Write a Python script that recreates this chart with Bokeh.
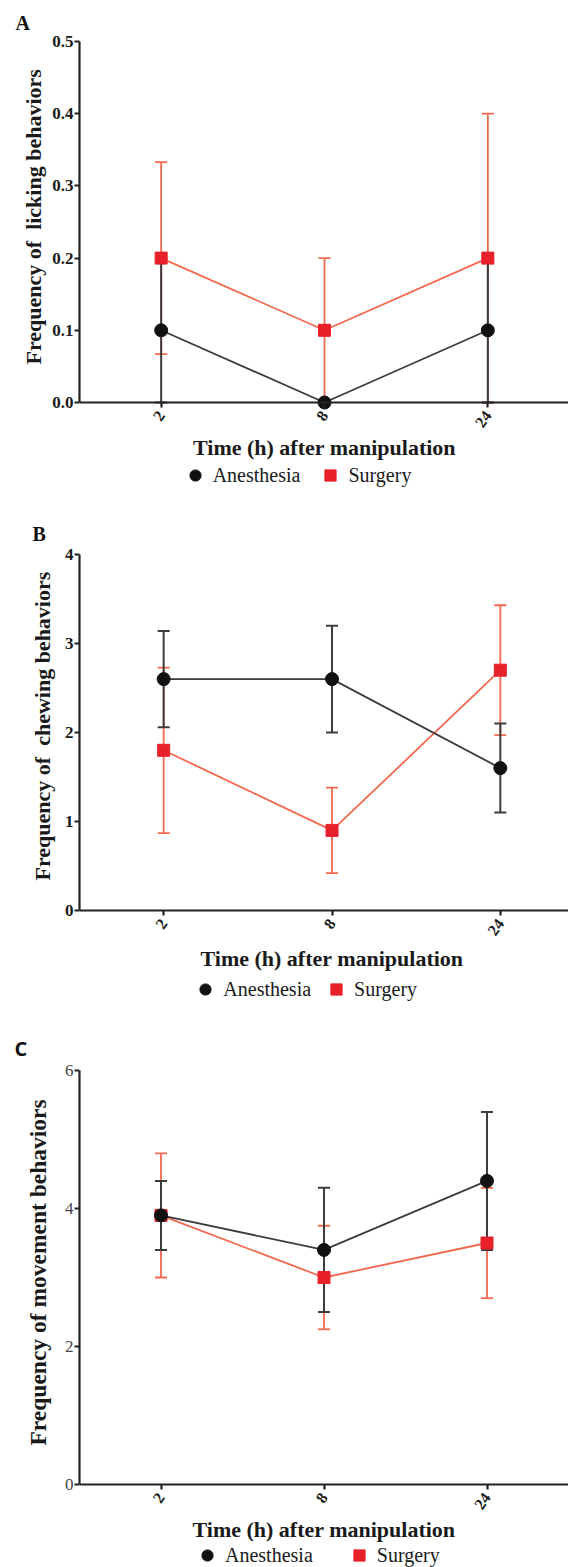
from bokeh.plotting import figure
from bokeh.models import (ColumnDataSource, Whisker, TeeHead, FactorRange, Range1d,
                          FixedTicker, NumeralTickFormatter, Legend, LegendItem, Title)
from bokeh.layouts import column
from bokeh.embed import file_html
from bokeh.resources import INLINE

# ---------------- data ----------------
times = ["2", "8", "24"]

lick_anest = [0.1, 0.0, 0.1]
lick_anest_sem = [0.1, 0.0, 0.1]
lick_surg = [0.2, 0.1, 0.2]
lick_surg_sem = [0.133, 0.1, 0.2]

chew_anest = [2.6, 2.6, 1.6]
chew_anest_sem = [0.54, 0.6, 0.5]
chew_surg = [1.8, 0.9, 2.7]
chew_surg_sem = [0.93, 0.48, 0.73]

move_anest = [3.9, 3.4, 4.4]
move_anest_sem = [0.5, 0.9, 1.0]
move_surg = [3.9, 3.0, 3.5]
move_surg_sem = [0.9, 0.75, 0.8]

series_names = ["Anesthesia", "Surgery"]
panel_letters = ["A", "B", "C"]
y_titles = ["Frequency of \u00a0licking behaviors", "Frequency of \u00a0chewing behaviors",
            "Frequency of movement behaviors"]
x_title = "Time (h) after manipulation"
y_ticks = [[0.0, 0.1, 0.2, 0.3, 0.4, 0.5], [0, 1, 2, 3, 4], [0, 2, 4, 6]]
y_formats = ["0.0", "0", "0"]

BLACK_LINE = "#3c3c3c"
BLACK_MARK = "#111111"
RED_LINE = "#f2694f"
RED_MARK = "#e8202a"
SERIF = "Liberation Serif"


def make_panel(idx, anest, anest_sem, surg, surg_sem, left, top, axis_px, below_px, bottom,
               xlab_standoff, ytick_font, ytick_style, ytick_size, ytick_color, letter_font,
               letter_offset, letter_standoff, legend_x, legend_y, legend_spacing,
               ylab_size, ylab_offset, ylab_standoff):
    ymax = y_ticks[idx][-1]
    fw = 568 - left
    # frame extends below the value axis to hold the axis title and legend
    ymin = -ymax * below_px / axis_px
    p = figure(frame_width=fw, frame_height=axis_px + below_px,
               x_range=FactorRange(factors=times, range_padding=0),
               y_range=Range1d(ymin, ymax), output_backend="svg", toolbar_location=None,
               min_border_left=left, min_border_right=0, min_border_top=top,
               min_border_bottom=bottom)
    p.outline_line_color = None
    p.grid.grid_line_color = None
    p.background_fill_color = "white"
    p.border_fill_color = "white"

    # panel letter as title
    p.title.text = panel_letters[idx]
    p.title.align = "left"
    p.title.offset = letter_offset
    p.title.standoff = letter_standoff
    p.title.text_font = letter_font
    p.title.text_font_style = "bold"
    p.title.text_font_size = "20px"
    p.title.text_color = "#111111"

    # y axis title, placed along the value axis only
    p.add_layout(Title(text=y_titles[idx], align="left", offset=ylab_offset,
                       standoff=ylab_standoff, text_font=SERIF, text_font_style="bold",
                       text_font_size=ylab_size, text_color="#1a1a1a"), "left")

    surg_src = ColumnDataSource(dict(x=times, y=surg,
                                     lo=[m - s for m, s in zip(surg, surg_sem)],
                                     hi=[m + s for m, s in zip(surg, surg_sem)]))
    an_src = ColumnDataSource(dict(x=times, y=anest,
                                   lo=[m - s for m, s in zip(anest, anest_sem)],
                                   hi=[m + s for m, s in zip(anest, anest_sem)]))

    # surgery (drawn first)
    p.add_layout(Whisker(base="x", lower="lo", upper="hi", source=surg_src,
                         line_color=RED_LINE, line_width=1.8,
                         upper_head=TeeHead(size=12, line_color=RED_LINE, line_width=1.8),
                         lower_head=TeeHead(size=12, line_color=RED_LINE, line_width=1.8)))
    p.line("x", "y", source=surg_src, line_color=RED_LINE, line_width=1.8)
    r_surg = p.scatter("x", "y", source=surg_src, marker="square", size=12,
                       fill_color=RED_MARK, line_color=RED_MARK)

    # anesthesia
    p.add_layout(Whisker(base="x", lower="lo", upper="hi", source=an_src,
                         line_color=BLACK_LINE, line_width=2,
                         upper_head=TeeHead(size=12, line_color=BLACK_LINE, line_width=2),
                         lower_head=TeeHead(size=12, line_color=BLACK_LINE, line_width=2)))
    p.line("x", "y", source=an_src, line_color=BLACK_LINE, line_width=1.8)
    r_an = p.scatter("x", "y", source=an_src, marker="circle", size=13,
                     fill_color=BLACK_MARK, line_color=BLACK_MARK)

    # axes
    for ax in (p.xaxis[0], p.yaxis[0]):
        ax.axis_line_width = 2.2
        ax.axis_line_color = "#222222"
        ax.major_tick_line_width = 2.2
        ax.major_tick_line_color = "#222222"
        ax.major_tick_out = 5
        ax.major_tick_in = 0
        ax.minor_tick_out = 0
        ax.minor_tick_in = 0
        ax.axis_label_text_font = SERIF
        ax.axis_label_text_font_style = "bold"
        ax.axis_label_text_color = "#1a1a1a"
        ax.axis_label_text_font_size = "22px"

    xa = p.xaxis[0]
    xa.fixed_location = 0
    xa.axis_label = x_title
    xa.axis_label_standoff = xlab_standoff
    xa.major_label_orientation = 0.95
    xa.major_label_text_font = SERIF
    xa.major_label_text_font_style = "bold"
    xa.major_label_text_font_size = "16px"
    xa.major_label_text_color = "#1a1a1a"
    xa.major_label_standoff = 5

    ya = p.yaxis[0]
    ya.bounds = (0, ymax)
    ya.ticker = FixedTicker(ticks=y_ticks[idx])
    ya.formatter = NumeralTickFormatter(format=y_formats[idx])
    ya.major_label_text_font = ytick_font
    ya.major_label_text_font_style = ytick_style
    ya.major_label_text_font_size = ytick_size
    ya.major_label_text_color = ytick_color
    ya.major_label_standoff = 1

    legend = Legend(items=[LegendItem(label=series_names[0], renderers=[r_an]),
                           LegendItem(label=series_names[1], renderers=[r_surg])],
                    orientation="horizontal", location=(legend_x, legend_y),
                    padding=0, margin=0, spacing=legend_spacing,
                    glyph_width=28, glyph_height=28, label_standoff=4,
                    label_height=22,
                    label_text_font=SERIF, label_text_font_size="20px",
                    label_text_color="#1a1a1a", border_line_color=None,
                    background_fill_alpha=0)
    p.add_layout(legend, "center")
    return p


pA = make_panel(0, lick_anest, lick_anest_sem, lick_surg, lick_surg_sem,
                left=78, top=41, axis_px=361, below_px=103, bottom=5, xlab_standoff=0,
                ytick_font=SERIF, ytick_style="bold", ytick_size="17px", ytick_color="#1a1a1a",
                letter_font=SERIF, letter_offset=-64, letter_standoff=15,
                legend_x=112, legend_y=16, legend_spacing=16,
                ylab_size="22px", ylab_offset=141, ylab_standoff=7)
pB = make_panel(1, chew_anest, chew_anest_sem, chew_surg, chew_surg_sem,
                left=63, top=42, axis_px=356, below_px=97, bottom=5, xlab_standoff=3,
                ytick_font=SERIF, ytick_style="bold", ytick_size="17px", ytick_color="#1a1a1a",
                letter_font=SERIF, letter_offset=-47, letter_standoff=20,
                legend_x=131, legend_y=4, legend_spacing=11,
                ylab_size="22px", ylab_offset=127, ylab_standoff=14)
pC = make_panel(2, move_anest, move_anest_sem, move_surg, move_surg_sem,
                left=79, top=58, axis_px=414, below_px=85, bottom=0, xlab_standoff=0,
                ytick_font=SERIF, ytick_style="normal", ytick_size="17px", ytick_color="#444444",
                letter_font="Open Sans", letter_offset=-65, letter_standoff=17,
                legend_x=114, legend_y=0, legend_spacing=32,
                ylab_size="23.5px", ylab_offset=124, ylab_standoff=22)

layout = column(pA, pB, pC, spacing=0)
open("out.html", "w").write(file_html(layout, INLINE))
